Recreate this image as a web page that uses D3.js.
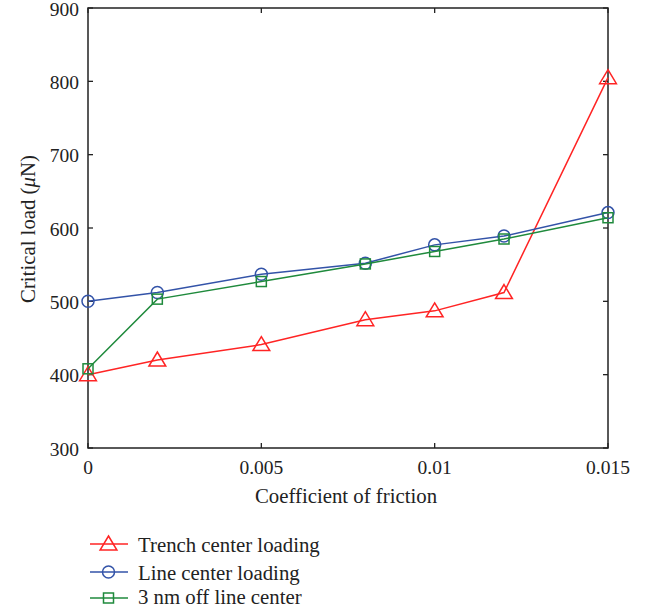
<!DOCTYPE html>
<html><head><meta charset="utf-8">
<script src="https://cdn.jsdelivr.net/npm/d3@7"></script>
<style>body{margin:0;background:#fff}svg{display:block}</style>
</head><body>
<svg id="c" width="650" height="609" font-family="'Liberation Serif', 'Times New Roman', 'DejaVu Serif', serif"></svg>
<script>
const xValues = [0, 0.002, 0.005, 0.008, 0.01, 0.012, 0.015];
const trench = [400, 420, 441, 475, 487, 512, 805];
const lineCenter = [500, 512, 537, 552, 577, 589, 621];
const offCenter = [408, 503, 527, 551, 568, 585, 614];
const xTicks = [0, 0.005, 0.01, 0.015];
const xTickLabels = ["0", "0.005", "0.01", "0.015"];
const yTicks = [300, 400, 500, 600, 700, 800, 900];
const seriesNames = ["Trench center loading", "Line center loading", "3 nm off line center"];
const seriesColors = ["#ff2424", "#3353a8", "#1f8a3c"];
const seriesShapes = ["triangle", "circle", "square"];
const seriesData = [trench, lineCenter, offCenter];

const FT = 19.5, FL = 20.8;
const svg = d3.select("#c");
const L = 88, R = 608, T = 8, B = 448;
const x = d3.scaleLinear().domain([0, 0.015]).range([L, R]);
const y = d3.scaleLinear().domain([300, 900]).range([B, T]);

svg.append("rect").attr("x", L).attr("y", T).attr("width", R - L).attr("height", B - T)
  .attr("fill", "none").attr("stroke", "#222").attr("stroke-width", 1.5);

const tl = 5;
xTicks.forEach(t => {
  svg.append("line").attr("x1", x(t)).attr("x2", x(t)).attr("y1", B).attr("y2", B - tl).attr("stroke", "#222").attr("stroke-width", 1.3);
  svg.append("line").attr("x1", x(t)).attr("x2", x(t)).attr("y1", T).attr("y2", T + tl).attr("stroke", "#222").attr("stroke-width", 1.3);
});
yTicks.forEach(t => {
  svg.append("line").attr("x1", L).attr("x2", L + tl).attr("y1", y(t)).attr("y2", y(t)).attr("stroke", "#222").attr("stroke-width", 1.3);
  svg.append("line").attr("x1", R).attr("x2", R - tl).attr("y1", y(t)).attr("y2", y(t)).attr("stroke", "#222").attr("stroke-width", 1.3);
});
xTicks.forEach((t, i) => {
  svg.append("text").attr("x", x(t)).attr("y", B + 26).attr("text-anchor", "middle")
    .attr("font-size", FT).attr("fill", "#222").text(xTickLabels[i]);
});
yTicks.forEach(t => {
  svg.append("text").attr("x", L - 9).attr("y", y(t) + 7.5).attr("text-anchor", "end")
    .attr("font-size", FT).attr("fill", "#222").text(t);
});
svg.append("text").attr("x", 346).attr("y", 503).attr("text-anchor", "middle")
  .attr("font-size", FL).attr("fill", "#222").text("Coefficient of friction");
const yl = svg.append("text").attr("transform", `translate(35,229) rotate(-90)`)
  .attr("text-anchor", "middle").attr("font-size", FL).attr("fill", "#222");
yl.append("tspan").text("Critical load (");
yl.append("tspan").attr("font-style", "italic").text("μ");
yl.append("tspan").text("N)");

function marker(g, shape, cx, cy, color) {
  if (shape === "triangle") {
    const s = 8;
    g.append("path").attr("d", `M${cx},${cy - s}L${cx + s * 1.05},${cy + s * 0.75}L${cx - s * 1.05},${cy + s * 0.75}Z`)
      .attr("fill", "none").attr("stroke", color).attr("stroke-width", 1.5);
  } else if (shape === "circle") {
    g.append("circle").attr("cx", cx).attr("cy", cy).attr("r", 6)
      .attr("fill", "none").attr("stroke", color).attr("stroke-width", 1.5);
  } else {
    g.append("rect").attr("x", cx - 5).attr("y", cy - 5).attr("width", 10).attr("height", 10)
      .attr("fill", "none").attr("stroke", color).attr("stroke-width", 1.5);
  }
}

const line = d3.line().x(d => x(d[0])).y(d => y(d[1]));
seriesData.forEach((vals, si) => {
  const pts = xValues.map((xv, i) => [xv, vals[i]]);
  const g = svg.append("g");
  g.append("path").attr("d", line(pts)).attr("fill", "none").attr("stroke", seriesColors[si]).attr("stroke-width", 1.5);
  pts.forEach(p => marker(g, seriesShapes[si], x(p[0]), y(p[1]), seriesColors[si]));
});

const ly = [544, 572, 598];
const lb = [552, 579.5, 604];
seriesNames.forEach((n, i) => {
  const g = svg.append("g");
  g.append("line").attr("x1", 90).attr("x2", 128).attr("y1", ly[i]).attr("y2", ly[i]).attr("stroke", seriesColors[i]).attr("stroke-width", 1.5);
  marker(g, seriesShapes[i], 108.5, ly[i], seriesColors[i]);
  g.append("text").attr("x", 138).attr("y", lb[i]).attr("font-size", FL).attr("fill", "#222").text(n);
});
</script>
</body></html>
